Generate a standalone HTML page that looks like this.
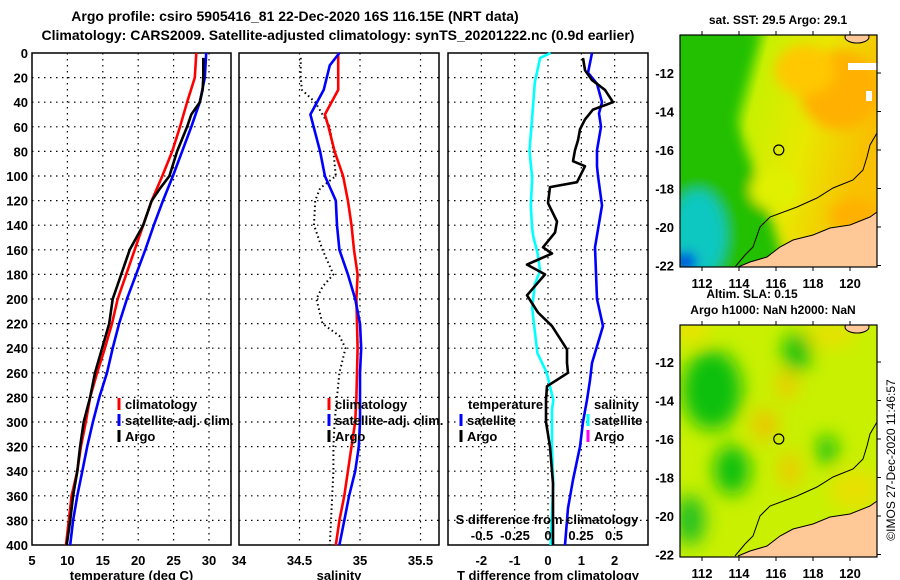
<!DOCTYPE html>
<html><head><meta charset="utf-8">
<style>
html,body{margin:0;padding:0;background:#fff;}
svg{display:block;font-family:"Liberation Sans",Arial,sans-serif;font-weight:bold;}
</style></head>
<body>
<svg id="chart" width="900" height="580" viewBox="0 0 900 580" xmlns="http://www.w3.org/2000/svg">
<defs>
<filter id="blur1" x="-20%" y="-20%" width="140%" height="140%"><feGaussianBlur stdDeviation="6"/></filter>
<filter id="blur2" x="-20%" y="-20%" width="140%" height="140%"><feGaussianBlur stdDeviation="9"/></filter>
<clipPath id="clipM1"><rect x="680" y="35" width="197" height="232"/></clipPath>
<clipPath id="clipM2"><rect x="680" y="325" width="197" height="232"/></clipPath>
<linearGradient id="sstg" x1="0" y1="0" x2="1" y2="0.3">
<stop offset="0" stop-color="#10c800"/><stop offset="0.3" stop-color="#30d000"/><stop offset="0.42" stop-color="#c8f000"/><stop offset="0.7" stop-color="#e8e800"/><stop offset="1" stop-color="#f8c000"/>
</linearGradient>
</defs>
<g font-size="14" text-anchor="middle">
<text x="295" y="21">Argo profile: csiro 5905416_81 22-Dec-2020 16S 116.15E (NRT data)</text>
<text x="338" y="40">Climatology: CARS2009. Satellite-adjusted climatology: synTS_20201222.nc (0.9d earlier)</text>
</g>
<g id="plots"></g>
<g id="maps"></g>
</svg>
<script>
// ---------- data ----------
const depths = [0,20,40,60,80,100,120,140,160,180,200,220,240,260,280,300,320,340,360,380,400];
const tempClim = [28.2,28.0,26.9,25.9,24.8,23.4,21.9,20.7,19.5,18.3,17.1,16.3,15.3,14.2,13.2,12.6,11.9,11.4,10.6,10.2,9.8];
const tempSat  = [29.6,29.4,28.7,27.5,26.2,24.9,23.5,22.2,21.0,19.7,18.4,17.3,16.4,15.6,14.5,13.6,12.8,12.1,11.4,10.8,10.4];
const argoDepths = [4,20,30,40,50,60,80,100,110,120,140,160,180,200,220,240,260,280,300,320,340,360,380,400];
const tempArgo = [29.2,29.2,29.1,28.7,27.5,26.9,25.5,24.4,23.1,21.9,20.7,18.8,17.6,16.4,15.9,14.9,13.9,13.2,12.3,11.8,11.4,10.8,10.4,9.9];
const salDepths = [0,20,30,50,60,80,100,120,140,160,180,200,240,280,300,320,340,360,380,400];
const salClim = [34.82,34.82,34.82,34.71,34.74,34.79,34.86,34.90,34.93,34.95,34.98,34.97,34.98,34.97,34.96,34.93,34.90,34.87,34.83,34.80];
const salSatDepths = [0,10,30,50,80,100,120,140,160,180,200,220,240,260,280,300,320,340,360,380,400];
const salSat = [34.83,34.75,34.70,34.59,34.67,34.71,34.80,34.81,34.83,34.90,34.96,35.00,35.01,35.00,35.00,35.00,34.99,34.96,34.91,34.87,34.83];
const salArgoDepths = [4,20,30,40,50,60,80,100,110,120,140,160,180,190,200,220,230,240,260,280,300,320,340,360,380,400];
const salArgo = [34.51,34.51,34.52,34.63,34.69,34.75,34.78,34.80,34.67,34.63,34.62,34.69,34.78,34.69,34.64,34.69,34.83,34.88,34.83,34.81,34.79,34.78,34.78,34.77,34.76,34.75];
const dTArgoDepths = [4,14,22,30,40,46,54,62,71,79,88,92,105,109,122,137,146,158,163,172,180,197,211,222,241,252,260,271,282,300,320,350,380,400];
const dTArgo = [1.05,1.11,1.32,1.71,1.95,1.35,1.11,0.96,0.90,0.81,0.75,1.11,0.87,0.06,0.00,0.27,0.21,-0.15,0.12,-0.63,-0.09,-0.63,-0.30,0.12,0.57,0.57,0.60,-0.03,-0.06,-0.06,0.06,0.15,0.15,0.15];
const dTSatDepths = [0,16,25,40,49,60,79,92,100,124,158,200,222,252,266,282,300,320,347,370,400];
const dTSat = [1.32,1.20,1.47,1.62,1.53,1.59,1.47,1.47,1.50,1.62,1.41,1.47,1.65,1.32,1.26,1.17,1.05,0.96,0.75,0.60,0.51];
const dSSatDepths = [0,4,24,52,79,102,124,143,150,162,177,188,207,217,244,260,282,290,300,320,350,400];
const dSSat = [0.02,-0.06,-0.10,-0.12,-0.14,-0.12,-0.13,-0.12,-0.11,-0.08,-0.06,-0.10,-0.12,-0.11,-0.08,-0.01,0.04,0.03,0.03,0.03,0.04,0.02];
const tempTicks = [5,10,15,20,25,30];
const salTicks = [34,34.5,35,35.5];
const salTickLabels = ["34","34.5","35","35.5"];
const dTTicks = [-2,-1,0,1,2];
const dSTicks = [-0.5,-0.25,0,0.25,0.5];
const dSTickLabels = ["-0.5","-0.25","0","0.25","0.5"];
const depthTicks = [0,20,40,60,80,100,120,140,160,180,200,220,240,260,280,300,320,340,360,380,400];
const lonTicks = [112,114,116,118,120];
const latTicks = [-12,-14,-16,-18,-20,-22];

// ---------- helpers ----------
const NS = "http://www.w3.org/2000/svg";
function mk(tag, attrs, parent){
  const e = document.createElementNS(NS, tag);
  for (const k in attrs) e.setAttribute(k, attrs[k]);
  parent.appendChild(e); return e;
}
const yTop = 53, yBot = 545;
const yD = d => yTop + (d/400)*(yBot-yTop);
const plots = document.getElementById('plots');

function panel(name, x0, x1, xf, ticks, labels, title, yLabels){
  const g = mk('g', {}, plots);
  
  
  depthTicks.forEach(d => {
    if (d===0||d===400) return;
    const l = mk('line', {x1:x0, x2:x1, y1:yD(d), y2:yD(d), stroke:'#000', 'stroke-width':1.2, 'stroke-dasharray':'1.5,4.5'}, g);
    
    
  });
  ticks.forEach((t,i) => {
    const x = xf(t);
    if (x > x0+1 && x < x1-1) {
      const l = mk('line', {x1:x, x2:x, y1:yTop, y2:yBot, stroke:'#000', 'stroke-width':1.2, 'stroke-dasharray':'1.5,4.5'}, g);
      
      
    }
    const tx = mk('text', {x:x, y:565, 'font-size':13, 'text-anchor':'middle'}, g);
    tx.textContent = labels ? labels[i] : String(t);
    
    
  });
  const tt = mk('text', {x:(x0+x1)/2, y:580, 'font-size':13, 'text-anchor':'middle'}, g);
  tt.textContent = title;
  
  
  if (yLabels) {
    depthTicks.forEach(d => {
      const t = mk('text', {x:x0-4, y:yD(d)+5, 'font-size':13, 'text-anchor':'end'}, g);
      t.textContent = String(d);
      
      
    });
  }
  const fr = mk('rect', {x:x0, y:yTop, width:x1-x0, height:yBot-yTop, fill:'none', stroke:'#000', 'stroke-width':1.5}, g);
  
  
  return g;
}
function series(g, name, ds, vs, xf, color, dash, w){
  const pts = ds.map((d,i) => xf(vs[i]).toFixed(1)+','+yD(Math.min(d,400)).toFixed(1)).join(' ');
  const p = mk('polyline', {points:pts, fill:'none', stroke:color, 'stroke-width':w||2.6, 'stroke-linejoin':'round'}, g);
  if (dash) p.setAttribute('stroke-dasharray', dash);
  
  
}
function legend(g, name, x, y, color, label){
  const b = mk('line', {x1:x, x2:x, y1:y-6, y2:y+6, stroke:color, 'stroke-width':3}, g);
  
  
  const t = mk('text', {x:x+6, y:y+5, 'font-size':13}, g);
  t.textContent = label;
  
  
}

// Panel 1 temperature
const xT = t => 32 + (t-5)*7.08;
const g1 = panel('temperature-panel', 32, 231, xT, tempTicks, null, 'temperature (deg C)', true);
series(g1, 'temp-climatology-line', depths, tempClim, xT, '#ff0000');
series(g1, 'temp-satellite-line', depths, tempSat, xT, '#0000ff');
series(g1, 'temp-argo-line', argoDepths, tempArgo, xT, '#000000');
legend(g1, 'legend-climatology', 119, 404, '#ff0000', 'climatology');
legend(g1, 'legend-satellite-adj', 119, 420, '#0000ff', 'satellite-adj. clim.');
legend(g1, 'legend-argo', 119, 436, '#000000', 'Argo');

// Panel 2 salinity
const xS = s => 239 + (s-34)*121;
const g2 = panel('salinity-panel', 239, 439, xS, salTicks, salTickLabels, 'salinity', false);
series(g2, 'sal-argo-line', salArgoDepths, salArgo, xS, '#000', '1.5,3', 2);
series(g2, 'sal-climatology-line', salDepths, salClim, xS, '#ff0000');
series(g2, 'sal-satellite-line', salSatDepths, salSat, xS, '#0000ff');
legend(g2, 'legend2-climatology', 329, 404, '#ff0000', 'climatology');
legend(g2, 'legend2-satellite-adj', 329, 420, '#0000ff', 'satellite-adj. clim.');
legend(g2, 'legend2-argo', 329, 436, '#000000', 'Argo');

// Panel 3 differences
const xdT = v => 448 + (v+3)*33.33;
const xdS = v => 548 + v*132;
const g3 = panel('difference-panel', 448, 648, xdT, dTTicks, null, 'T difference from climatology', false);
series(g3, 'dS-satellite-line', dSSatDepths, dSSat, xdS, '#00ffff');
series(g3, 'dT-satellite-line', dTSatDepths, dTSat, xdT, '#0000ff');
series(g3, 'dT-argo-line', dTArgoDepths, dTArgo, xdT, '#000000');
{
  const t = mk('text', {x:468, y:409, 'font-size':13}, g3); t.textContent='temperature';
  
  
  const t2 = mk('text', {x:594, y:409, 'font-size':13}, g3); t2.textContent='salinity';
  
  
}
legend(g3, 'legend3-t-satellite', 461, 420, '#0000ff', 'satellite');
legend(g3, 'legend3-t-argo', 461, 436, '#000000', 'Argo');
legend(g3, 'legend3-s-satellite', 588, 420, '#00ffff', 'satellite');
legend(g3, 'legend3-s-argo', 588, 436, '#ff00ff', 'Argo');
{
  const t = mk('text', {x:547, y:524, 'font-size':13, 'text-anchor':'middle'}, g3);
  t.textContent = 'S difference from climatology';
  
  
  dSTicks.forEach((v,i) => {
    const s = mk('text', {x:xdS(v), y:540, 'font-size':13, 'text-anchor':'middle'}, g3);
    s.textContent = dSTickLabels[i];
    
    
  });
}

// ---------- maps ----------
const maps = document.getElementById('maps');
const lonX = lon => 702 + (lon-112)*18.5;
function latY(lat, off){ return 73 + (-12-lat)*19.25 + off; }

function map(name, off, clip, kind, topTitle, bottomTitles){
  const g = mk('g', {}, maps);
  
  
  const y0 = off ? 325 : 35;
  const inner = mk('g', {'clip-path':'url(#'+clip+')'}, g);
  if (kind==='sst') {
    mk('rect', {x:680, y:y0, width:197, height:232, fill:'url(#sstg)'}, inner);
    const b = mk('g', {filter:'url(#blur1)'}, inner);
    mk('polygon', {points:'670,30 760,30 735,120 765,200 790,280 670,280', fill:'#20c000'}, b);
    mk('ellipse', {cx:698, cy:235, rx:28, ry:45, fill:'#10c8c0'}, b);
    mk('ellipse', {cx:685, cy:262, rx:12, ry:10, fill:'#0040e0'}, b);
    mk('ellipse', {cx:840, cy:90, rx:40, ry:40, fill:'#ffb000'}, b);
    mk('ellipse', {cx:805, cy:70, rx:30, ry:25, fill:'#ffc800'}, b);
    mk('ellipse', {cx:855, cy:215, rx:25, ry:15, fill:'#ffb000'}, b);
    mk('ellipse', {cx:775, cy:190, rx:25, ry:20, fill:'#e0f000'}, b);
    mk('rect', {x:848, y:63, width:29, height:7, fill:'#fff'}, inner);
    mk('rect', {x:866, y:91, width:6, height:10, fill:'#fff'}, inner);
  } else {
    mk('rect', {x:680, y:y0, width:197, height:232, fill:'#c8f000'}, inner);
    const b = mk('g', {filter:'url(#blur2)'}, inner);
    mk('ellipse', {cx:712, cy:390, rx:30, ry:40, fill:'#10c010'}, b);
    mk('ellipse', {cx:732, cy:470, rx:18, ry:25, fill:'#10c010'}, b);
    mk('ellipse', {cx:690, cy:520, rx:15, ry:25, fill:'#20c020'}, b);
    mk('ellipse', {cx:797, cy:352, rx:14, ry:20, fill:'#10c010'}, b);
    mk('ellipse', {cx:827, cy:450, rx:10, ry:15, fill:'#10c010'}, b);
    mk('ellipse', {cx:765, cy:425, rx:12, ry:15, fill:'#f0c000'}, b);
    mk('ellipse', {cx:787, cy:385, rx:10, ry:14, fill:'#f0c800'}, b);
    mk('ellipse', {cx:790, cy:470, rx:10, ry:18, fill:'#f0c800'}, b);
    mk('ellipse', {cx:855, cy:490, rx:25, ry:20, fill:'#e8e000'}, b);
    mk('ellipse', {cx:830, cy:335, rx:25, ry:12, fill:'#e8e000'}, b);
    mk('ellipse', {cx:690, cy:330, rx:20, ry:10, fill:'#f0e000'}, b);
  }
  const d = off ? 289 : 0;
  const land = mk('polygon', {points:`738,${267+d} 750,${262+d} 767,${257+d} 780,${247+d} 793,${240+d} 813,${235+d} 830,${228+d} 850,${225+d} 870,${217+d} 877,${212+d} 877,${268+d} 738,${268+d}`, fill:'#ffc896'}, inner);
  
  
  mk('ellipse', {cx:857, cy:37+(off?290:0), rx:12, ry:6, fill:'#ffc896', stroke:'#000', 'stroke-width':1}, inner);
  const coast = mk('polyline', {points:`735,${267+d} 745,${255+d} 753,${247+d} 760,${227+d} 770,${217+d} 797,${207+d} 817,${198+d} 833,${188+d} 853,${180+d} 863,${170+d} 867,${157+d} 870,${145+d} 877,${133+d}`, fill:'none', stroke:'#000', 'stroke-width':1}, inner);
  
  
  mk('polyline', {points:`738,${267+d} 750,${262+d} 767,${257+d} 780,${247+d} 793,${240+d} 813,${235+d} 830,${228+d} 850,${225+d} 870,${217+d} 877,${212+d}`, fill:'none', stroke:'#000', 'stroke-width':1}, inner);
  const c = mk('circle', {cx:lonX(116.15), cy:latY(-16, d), r:5, fill:'none', stroke:'#000', 'stroke-width':1.2}, g);
  
  
  const fr = mk('rect', {x:680, y:y0, width:197, height:232, fill:'none', stroke:'#000', 'stroke-width':1.2}, g);
  
  
  lonTicks.forEach(lon => {
    mk('line', {x1:lonX(lon), x2:lonX(lon), y1:y0-4, y2:y0, stroke:'#000'}, g);
    mk('line', {x1:lonX(lon), x2:lonX(lon), y1:y0+232, y2:y0+236, stroke:'#000'}, g);
    const t = mk('text', {x:lonX(lon), y:y0+253, 'font-size':13, 'text-anchor':'middle'}, g);
    t.textContent = String(lon);
    
    
  });
  latTicks.forEach(lat => {
    const y = latY(lat, d);
    mk('line', {x1:877, x2:881, y1:y, y2:y, stroke:'#000'}, g);
    const t = mk('text', {x:674, y:y+5, 'font-size':13, 'text-anchor':'end'}, g);
    t.textContent = String(lat);
    
    
  });
  if (topTitle) {
    const t = mk('text', {x:778, y:24, 'font-size':12, 'text-anchor':'middle'}, g);
    t.textContent = topTitle;
    
    
  }
  if (bottomTitles) {
    const t1 = mk('text', {x:752, y:298, 'font-size':12, 'text-anchor':'middle'}, g);
    t1.textContent = bottomTitles[0];
    
    
    const t2 = mk('text', {x:773, y:314, 'font-size':12, 'text-anchor':'middle'}, g);
    t2.textContent = bottomTitles[1];
    
    
  }
}
map('sst-map', 0, 'clipM1', 'sst', 'sat. SST: 29.5 Argo: 29.1', null);
map('sla-map', 290, 'clipM2', 'sla', null, ['Altim. SLA: 0.15', 'Argo h1000: NaN h2000: NaN']);
{
  const t = mk('text', {x:0, y:0, 'font-size':12, 'text-anchor':'middle', 'font-weight':'normal', transform:'translate(895,460) rotate(-90)'}, maps);
  t.textContent = '©IMOS 27-Dec-2020 11:46:57';
  
  
}
</script>
</body></html>
